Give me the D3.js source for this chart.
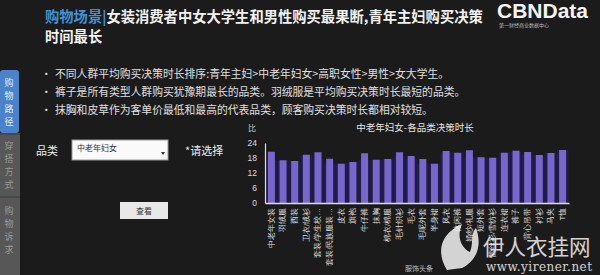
<!DOCTYPE html>
<html>
<head>
<meta charset="utf-8">
<script src="https://cdn.jsdelivr.net/npm/d3@7"></script>
<style>
  body { margin: 0; background: #1b1b1b; }
  svg { display: block; font-family: "Noto Sans CJK SC", "Noto Sans", sans-serif; }
</style>
</head>
<body>
<div id="chart"></div>
<script>
// 品类
const categories = [
  "中老年女装", "羽绒服", "西装", "卫衣/绒衫", "套装/学生校…", "套装/民族服装…",
  "皮衣", "旗袍", "牛仔裤", "抹胸", "棉衣/棉服", "毛针织衫", "毛衣", "毛呢外套",
  "半身裙", "风衣", "休闲裤", "婚纱/礼服", "短外套", "蕾丝衫/雪纺衫", "连衣裙",
  "裤子", "背心吊带", "衬衫", "马夹", "T恤"
];
// 决策时长
const hours = [
  20.5, 17.1, 16.8, 19.3, 20.3, 17.7, 15.7, 16.4, 19.9, 17.3, 17.6, 20.3, 18.8,
  17.6, 15.7, 20.8, 20.1, 21.1, 18.3, 18.1, 20.1, 20.9, 20.4, 19.2, 20.0, 21.2
];
const yTicks = [0, 6, 12, 18, 24];
const bullets = [
  "不同人群平均购买决策时长排序:青年主妇>中老年妇女>高职女性>男性>女大学生。",
  "裤子是所有类型人群购买犹豫期最长的品类。羽绒服是平均购买决策时长最短的品类。",
  "抹胸和皮草作为客单价最低和最高的代表品类，顾客购买决策时长都相对较短。"
];
const sideTabs = ["购物路径", "穿搭方式", "购物诉求"];

const width = 600, height = 275;
const svg = d3.select("#chart").append("svg")
  .attr("width", width).attr("height", height);

svg.append("rect").attr("width", width).attr("height", height).attr("fill", "#1b1b1b");

// 标题
const title = svg.append("text").attr("x", 45).attr("y", 22)
  .style("font-size", "14.3px").style("font-weight", "bold");
title.append("tspan").attr("fill", "#3d93d8").text("购物场景|");
title.append("tspan").attr("fill", "#f2f2f2").text("女装消费者中女大学生和男性购买最果断,青年主妇购买决策");
svg.append("text").attr("x", 45).attr("y", 42)
  .attr("fill", "#f2f2f2").style("font-size", "14.3px").style("font-weight", "bold")
  .text("时间最长");

// logo
svg.append("text").attr("x", 497).attr("y", 18)
  .attr("fill", "#f4f4f4").style("font-size", "21px").style("font-weight", "bold")
  .style("font-family", "Liberation Sans, Arial, sans-serif")
  .text("CBNData");
svg.append("text").attr("x", 499).attr("y", 27)
  .attr("fill", "#bbb").style("font-size", "5px").text("第一财经商业数据中心");

// 侧边栏
svg.append("rect").attr("x", 0).attr("y", 133).attr("width", 20).attr("height", 142).attr("fill", "#575757");
const tabY = [[70, 133], [135, 195], [198, 262]];
sideTabs.forEach((t, i) => {
  if (i === 0) {
    svg.append("rect").attr("x", 0).attr("y", tabY[i][0]).attr("width", 19)
      .attr("height", tabY[i][1] - tabY[i][0]).attr("rx", 3).attr("fill", "#4a82cc");
  } else {
    svg.append("line").attr("x1", 0).attr("x2", 20).attr("y1", tabY[i][0] - 1).attr("y2", tabY[i][0] - 1)
      .attr("stroke", "#3a3a3a");
  }
  const mid = (tabY[i][0] + tabY[i][1]) / 2;
  t.split("").forEach((c, j) => {
    svg.append("text").attr("x", 9).attr("y", mid - 19.5 + j * 13 + 3.5)
      .attr("text-anchor", "middle").attr("fill", i === 0 ? "#e8eefa" : "#9a9a9a")
      .style("font-size", "9px").text(c);
  });
});

// 要点
bullets.forEach((b, i) => {
  const y = 78 + i * 18;
  svg.append("text").attr("x", 41).attr("y", y).attr("fill", "#ddd")
    .style("font-size", "10.5px").text("•");
  svg.append("text").attr("x", 55).attr("y", y).attr("fill", "#e0e0e0")
    .style("font-size", "10.8px").text(b);
});

// 选择框
svg.append("text").attr("x", 36).attr("y", 155).attr("fill", "#eee")
  .style("font-size", "11px").text("品类");
svg.append("rect").attr("x", 72).attr("y", 140).attr("width", 96).attr("height", 20)
  .attr("fill", "#fafafa").attr("stroke", "#999");
svg.append("text").attr("x", 77).attr("y", 151).attr("fill", "#333")
  .style("font-size", "8px").text("中老年妇女");
svg.append("path").attr("d", "M161,152 L165,152 L163,155 Z").attr("fill", "#333");
svg.append("text").attr("x", 185).attr("y", 155).attr("fill", "#eee")
  .style("font-size", "11px").text("*请选择");

svg.append("rect").attr("x", 120).attr("y", 202).attr("width", 48).attr("height", 17)
  .attr("fill", "#e8e8e8");
svg.append("text").attr("x", 144).attr("y", 214).attr("text-anchor", "middle")
  .attr("fill", "#333").style("font-size", "8px").text("查看");

// 柱状图
const plot = { left: 265, right: 569, top: 143, bottom: 203 };
const x = d3.scaleBand().domain(categories).range([plot.left, plot.right]).paddingInner(0).paddingOuter(0.05);
const y = d3.scaleLinear().domain([0, 24]).range([plot.bottom, plot.top]);

svg.append("text").attr("x", 415).attr("y", 131).attr("text-anchor", "middle")
  .attr("fill", "#e6e6e6").style("font-size", "9.5px").text("中老年妇女-各品类决策时长");
svg.append("text").attr("x", 252).attr("y", 131).attr("text-anchor", "middle")
  .attr("fill", "#ccc").style("font-size", "8px").text("比");

const g = svg.append("g");
g.selectAll(".band").data(categories).enter().append("rect")
  .attr("x", d => x(d))
  .attr("y", (d, i) => y(Math.min(hours[i], hours[i + 1] ?? hours[i])))
  .attr("width", x.step())
  .attr("height", (d, i) => y(0) - y(Math.min(hours[i], hours[i + 1] ?? hours[i])))
  .attr("fill", "#221d45");
g.selectAll(".bar").data(categories).enter().append("rect")
  .attr("x", d => x(d) + x.bandwidth() * 0.2)
  .attr("y", (d, i) => y(hours[i]))
  .attr("width", x.bandwidth() * 0.6)
  .attr("height", (d, i) => y(0) - y(hours[i]))
  .attr("fill", "#7866cf");

const yAxis = svg.append("g").attr("transform", `translate(${plot.left},0)`)
  .call(d3.axisLeft(y).tickValues(yTicks).tickSize(0).tickPadding(8));
yAxis.select(".domain").attr("stroke", "#ddd").attr("stroke-width", 1.2);
yAxis.selectAll("text").attr("fill", "#ddd").style("font-size", "8.5px")
  .style("font-family", "Liberation Sans, sans-serif");

const xAxis = svg.append("g").attr("transform", `translate(0,${plot.bottom})`)
  .call(d3.axisBottom(x).tickSize(0).tickPadding(3));
xAxis.select(".domain").attr("stroke", "#ddd").attr("stroke-width", 1.5);
xAxis.selectAll("text")
  .attr("fill", "#ddd").style("font-size", "7.5px")
  .attr("transform", "rotate(-90)")
  .attr("text-anchor", "end")
  .attr("dy", "0.32em")
  .attr("x", -5).attr("y", 0);

// 水印
const wm = svg.append("g").attr("opacity", 0.85);
wm.append("path")
  .attr("d", "M447,270 C436,252 440,234 462,224 C456,238 462,248 470,252 C474,242 470,234 476,228 C482,244 478,260 462,268 Z")
  .attr("fill", "#f4f4f4");
wm.append("text").attr("x", 483).attr("y", 255).attr("fill", "#f4f4f4")
  .style("font-size", "21.5px").text("伊人衣挂网");
wm.append("text").attr("x", 405).attr("y", 271).attr("fill", "#ddd")
  .style("font-size", "7px").text("服饰头条");
wm.append("text").attr("x", 486).attr("y", 271).attr("fill", "#f4f4f4")
  .style("font-size", "12px").style("font-family", "DejaVu Serif, serif")
  .attr("textLength", 106)
  .text("www.yirener.net");
</script>
</body>
</html>
